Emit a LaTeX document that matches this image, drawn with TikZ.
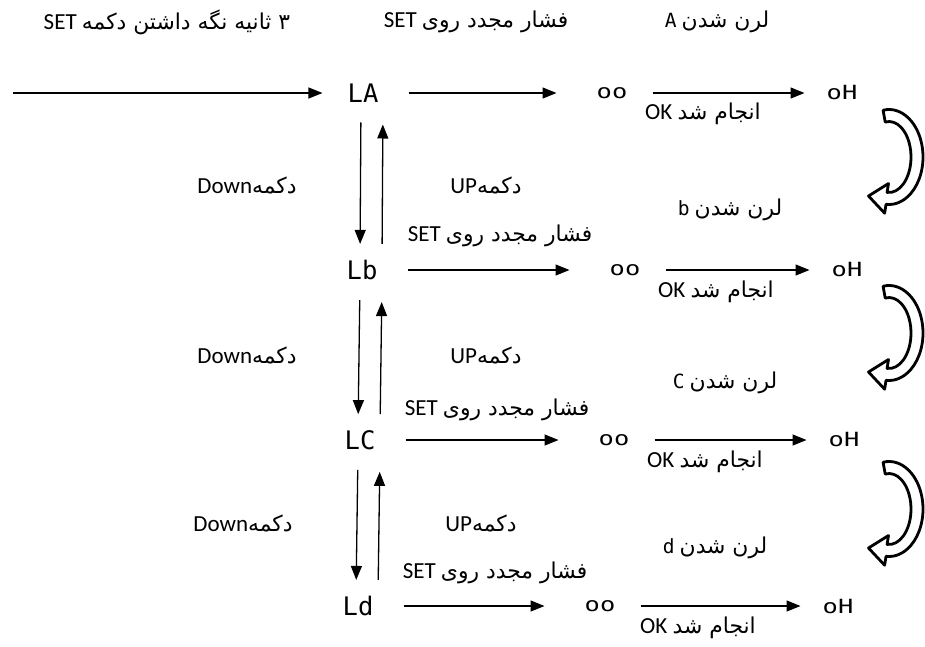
\documentclass[tikz,border=0pt]{standalone}
\usepackage{fontspec}
\usetikzlibrary{arrows.meta}
\TeXXeTstate=1
\setmainfont{Carlito}
\newfontfamily\fa[Script=Arabic,Scale=0.95]{DejaVu Sans}
\newfontfamily\seg[Scale=0.85]{DejaVu Sans Mono}
\newfontfamily\segw[Scale=0.85,FakeStretch=1.3]{DejaVu Sans Mono}

\begin{document}
\begin{tikzpicture}[x=1pt,y=-1pt]

	\tikzstyle{disp}=[inner sep=0pt,font=\fontsize{30}{30}\selectfont\seg]
	\tikzstyle{small}=[inner sep=0pt,font=\fontsize{23}{23}\selectfont\segw]
	\tikzstyle{lbl}=[inner sep=0pt,font=\fontsize{23}{26}\selectfont]
	\tikzstyle{arr}=[line width=1.3pt,-{Triangle[length=14pt,width=11pt]}]
	\tikzstyle{turn}=[line width=2.8pt,fill=white,line join=round]

	\useasboundingbox (0,0) rectangle (925,646);

	% displays
	\node[disp] (LA) at (363,93) {LA};
	\node[disp] (LB) at (362,270) {Lb};
	\node[disp] (LC) at (360,440) {LC};
	\node[disp] (LD) at (358,606) {Ld};

	\node[small] (ooA) at (612,93) {oo};
	\node[small] (ooB) at (625,270) {oo};
	\node[small] (ooC) at (614,440) {oo};
	\node[small] (ooD) at (600,606) {oo};

	\node[small] (ohA) at (842,93) {oH};
	\node[small] (ohB) at (847,270) {oH};
	\node[small] (ohC) at (844,440) {oH};
	\node[small] (ohD) at (838,606) {oH};

	\coordinate (start) at (13,93);

	% texts
	\node[lbl] (hold) at (167,22) {\beginR{\fa ۳ ثانیه نگه داشتن دکمه} SET\endR};
	\node[lbl] (setA) at (476,22) {\beginR{\fa فشار مجدد روی} SET\endR};
	\node[lbl] (setB) at (500,236) {\beginR{\fa فشار مجدد روی} SET\endR};
	\node[lbl] (setC) at (497,410) {\beginR{\fa فشار مجدد روی} SET\endR};
	\node[lbl] (setD) at (495,573) {\beginR{\fa فشار مجدد روی} SET\endR};

	\node[lbl] (lrnA) at (717,22) {\beginR{\fa لرن شدن} {\seg A}\endR};
	\node[lbl] (lrnB) at (730,210) {\beginR{\fa لرن شدن} {\seg b}\endR};
	\node[lbl] (lrnC) at (725,383) {\beginR{\fa لرن شدن} {\seg C}\endR};
	\node[lbl] (lrnD) at (715,548) {\beginR{\fa لرن شدن} {\seg d}\endR};

	\node[lbl] (dnA) at (247,185) {\beginR{\fa دکمه}Down\endR};
	\node[lbl] (dnB) at (247,355) {\beginR{\fa دکمه}Down\endR};
	\node[lbl] (dnC) at (243,523) {\beginR{\fa دکمه}Down\endR};

	\node[lbl] (upA) at (486,185) {\beginR{\fa دکمه}UP\endR};
	\node[lbl] (upB) at (486,355) {\beginR{\fa دکمه}UP\endR};
	\node[lbl] (upC) at (481,523) {\beginR{\fa دکمه}UP\endR};

	\node[lbl] (okA) at (703,114) {\beginR{\fa انجام شد} OK\endR};
	\node[lbl] (okB) at (716,292) {\beginR{\fa انجام شد} OK\endR};
	\node[lbl] (okC) at (705,462) {\beginR{\fa انجام شد} OK\endR};
	\node[lbl] (okD) at (698,628) {\beginR{\fa انجام شد} OK\endR};

	% arrows
	\draw[arr,shorten >=25pt] (start)-- (LA);
	\draw[arr,shorten <=30pt,shorten >=40pt] (LA)-- (ooA);
	\draw[arr,shorten <=30pt,shorten >=40pt] (LB)-- (ooB);
	\draw[arr,shorten <=30pt,shorten >=40pt] (LC)-- (ooC);
	\draw[arr,shorten <=30pt,shorten >=40pt] (LD)-- (ooD);

	\draw[arr,shorten <=25pt,shorten >=22pt] (ooA)-- (ohA);
	\draw[arr,shorten <=25pt,shorten >=22pt] (ooB)-- (ohB);
	\draw[arr,shorten <=25pt,shorten >=22pt] (ooC)-- (ohC);
	\draw[arr,shorten <=25pt,shorten >=22pt] (ooD)-- (ohD);

	\draw[arr,shorten <=20pt,shorten >=16pt] ([xshift=-2pt]LA.south)-- ([xshift=-2pt]LB.north);
	\draw[arr,shorten <=16pt,shorten >=22pt] ([xshift=20pt]LB.north)-- ([xshift=20pt]LA.south);
	\draw[arr,shorten <=20pt,shorten >=16pt] ([xshift=-2pt]LB.south)-- ([xshift=-2pt]LC.north);
	\draw[arr,shorten <=16pt,shorten >=22pt] ([xshift=20pt]LC.north)-- ([xshift=20pt]LB.south);
	\draw[arr,shorten <=20pt,shorten >=16pt] ([xshift=-2pt]LC.south)-- ([xshift=-2pt]LD.north);
	\draw[arr,shorten <=16pt,shorten >=22pt] ([xshift=20pt]LD.north)-- ([xshift=20pt]LC.south);

	% turning arrows
	\foreach \cy in {157,333,509}{
		\begin{scope}[shift={(889,\cy)},y=1pt]
			\draw[turn] (100:34 and 47.5) arc[start angle=100,end angle=-95,x radius=34,y radius=47.5]
				-- (-4.4,-56.2) -- (-20.5,-39) -- (-0.5,-26.5)
				-- (-95:22 and 35.5) arc[start angle=-95,end angle=100,x radius=22,y radius=35.5] -- cycle;
		\end{scope}
	}

\end{tikzpicture}
\end{document}
